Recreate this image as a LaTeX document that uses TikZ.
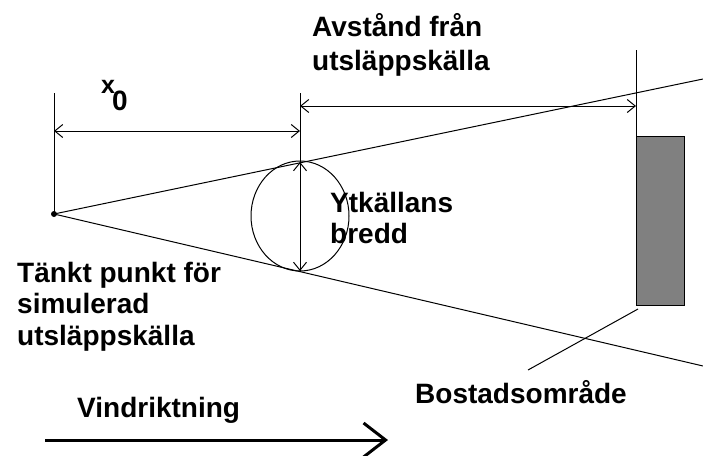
\documentclass[tikz,border=0pt]{standalone}
\usepackage{fontspec}
\setmainfont{Liberation Sans}
\usetikzlibrary{arrows.meta}
\begin{document}
\begin{tikzpicture}[x=1pt,y=-1pt,
  lbl/.style={anchor=base west, inner sep=0pt, font=\fontsize{28}{32}\selectfont\bfseries},
  ln/.style={line width=1pt},
  dim/.style={line width=1pt, {Straight Barb[length=8pt,width=13pt]}-{Straight Barb[length=8pt,width=13pt]}},
  wind/.style={line width=3pt, -{Straight Barb[length=22pt,width=34pt]}}
]
\useasboundingbox (0,0) rectangle (703,455);
% named points
\node[circle, fill=black, inner sep=0pt, minimum size=6pt] (src) at (54,214) {};
\node[draw=black, line width=1pt, fill={rgb,255:red,128;green,128;blue,128}, minimum width=48pt, minimum height=169pt, inner sep=0pt, anchor=north west] (house) at (636,136) {};
\coordinate (coneUp) at (703,79);
\coordinate (coneLo) at (703,366);
\coordinate (x0top) at (54,93);
\coordinate (midtop) at (300,93);
\coordinate (midbot) at (300,272);
\coordinate (rtop) at (636,50);
\coordinate (rbot) at (636,136);
\coordinate (dimAL) at (54,131);
\coordinate (dimAR) at (300,131);
\coordinate (dimBL) at (300,106);
\coordinate (dimBR) at (636,106);
\coordinate (dimCT) at (300,162);
\coordinate (dimCB) at (300,271);
\coordinate (leadEnd) at (528,370);
\coordinate (windA) at (45,440);
\coordinate (windB) at (388,440);
% cone
\draw[ln] (src.center) -- (coneUp);
\draw[ln] (src.center) -- (coneLo);
% circle (area source)
\draw[ln] (300,216) ellipse [x radius=49pt, y radius=55pt];
% extension lines
\draw[ln] (x0top) -- (src.center);
\draw[ln] (midtop) -- (midbot);
\draw[ln] (rtop) -- (rbot);
% dimensions
\draw[dim] (dimAL) -- (dimAR);
\draw[dim] (dimBL) -- (dimBR);
\draw[dim] (dimCT) -- (dimCB);
% leader
\draw[ln] (leadEnd) -- ([xshift=2pt,yshift=-3pt]house.south west);
% wind
\draw[wind] (windA) -- (windB);
% labels
\node[lbl, font=\fontsize{25}{25}\selectfont\bfseries] (xlab) at (101,93) {x};
\node[lbl] (zero) at (112,110) {0};
\node[lbl] (avst1) at (312,36) {Avstånd från};
\node[lbl] (avst2) at (312,70) {utsläppskälla};
\node[lbl] (ytk1) at (330,212) {Ytkällans};
\node[lbl] (ytk2) at (330,243) {bredd};
\node[lbl] (tp1) at (17,282) {Tänkt punkt för};
\node[lbl] (tp2) at (17,313) {simulerad};
\node[lbl] (tp3) at (17,345) {utsläppskälla};
\node[lbl] (bost) at (415,403) {Bostadsområde};
\node[lbl] (vind) at (77,417) {Vindriktning};
\end{tikzpicture}
\end{document}
